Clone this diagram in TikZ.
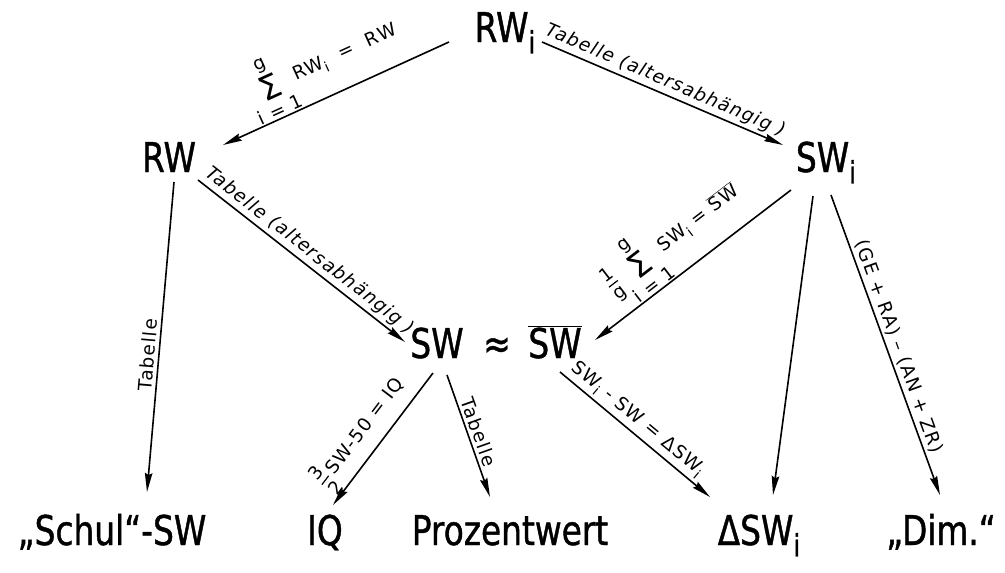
\documentclass[tikz,border=0pt]{standalone}
\usepackage{fontspec}
\setmainfont{DejaVu Sans}
\newfontfamily\bigf{DejaVu Sans}[FakeStretch=0.8,FakeBold=1]
\newfontfamily\labf{DejaVu Sans}[LetterSpace=7]
\usetikzlibrary{arrows.meta}
\newcommand\subi{\raisebox{-0.28em}{\scalebox{0.75}{i}}}
\newcommand\ssum{\ensuremath{\vcenter{\hbox{\shortstack{g\\[1pt]\scalebox{1.8}{Σ}\\[2pt]i = 1}}}}}
\newcommand\fr[2]{\ensuremath{\vcenter{\hbox{\shortstack{#1\\[1pt]\rule{0.6em}{1.2pt}\\[2pt]#2}}}}}
\newcommand\ovsw{\ensuremath{\overline{\hbox{SW}}}}
\begin{document}
\begin{tikzpicture}[x=1pt,y=-1pt,
  big/.style={inner sep=0pt, anchor=base, font=\bigf\fontsize{41pt}{41pt}\selectfont},
  lab/.style={sloped, above, inner sep=3pt, font=\labf\fontsize{18.5pt}{22pt}\selectfont},
  labit/.style={lab, font=\labf\fontsize{18.5pt}{22pt}\selectfont\itshape},
  arr/.style={line width=1.6pt, -{Stealth[length=19pt,width=7.5pt,inset=2pt]}}]
\useasboundingbox (0,0) rectangle (1005,573);
\fill[white] (0,0) rectangle (1005,573);
% nodes
\node[big] (rwi) at (505,42) {RW\subi};
\node[big] (rw) at (169,172) {RW};
\node[big] (swi) at (826,172) {SW\subi};
\node[big] (sw) at (437,358) {SW};
\node[big] (approx) at (497,358) {≈};
\node[big] (swbar) at (555,358) {\ovsw};
\node[big] (schul) at (112,545) {„Schul“-SW};
\node[big] (iq) at (325,545) {IQ};
\node[big] (proz) at (510,545) {Prozentwert};
\node[big] (dsw) at (759,545) {ΔSW\subi};
\node[big] (dim) at (941,545) {„Dim.“};
% connectors
\draw[arr] ([shift={(-56,0)}]rwi.base) -- ([shift={(54,-27)}]rw.base)
  node[lab,pos=0.5,inner sep=1pt] {\ssum\,RW\subi\ \ =\ \ RW};
\draw[arr] ([shift={(37,0)}]rwi.base) -- ([shift={(-43,-27)}]swi.base)
  node[labit,pos=0.49] {Tabelle (altersabhängig )};
\draw[arr] ([shift={(29,8)}]rw.base) -- ([shift={(-32,-16)}]sw.base)
  node[labit,pos=0.5] {Tabelle (altersabhängig )};
\draw[arr] ([shift={(5,10)}]rw.base) -- ([shift={(35,-53)}]schul.base)
  node[lab,pos=0.56] {Tabelle};
\draw[arr] ([shift={(-4,15)}]sw.base) -- ([shift={(8,-40)}]iq.base)
  node[lab,pos=0.55,inner sep=1pt] {\fr{3}{2}\,SW-50 = IQ};
\draw[arr] ([shift={(10,17)}]sw.base) -- ([shift={(-20,-48)}]proz.base)
  node[lab,pos=0.5] {Tabelle};
\draw[arr] ([shift={(5,14)}]swbar.base) -- ([shift={(-49,-48)}]dsw.base)
  node[lab,pos=0.46] {SW\subi\ - SW = ΔSW\subi};
\draw[arr] ([shift={(-35,18)}]swi.base) -- ([shift={(40,-18)}]swbar.base)
  node[lab,pos=0.5,inner sep=1pt] {\fr{1}{g}\,\ssum\,SW\subi\ = \ovsw};
\draw[arr] ([shift={(-13,24)}]swi.base) -- ([shift={(14,-50)}]dsw.base);
\draw[arr] ([shift={(5,23)}]swi.base) -- ([shift={(-1,-50)}]dim.base)
  node[lab,pos=0.52] {(GE + RA) – (AN + ZR)};
\end{tikzpicture}
\end{document}
